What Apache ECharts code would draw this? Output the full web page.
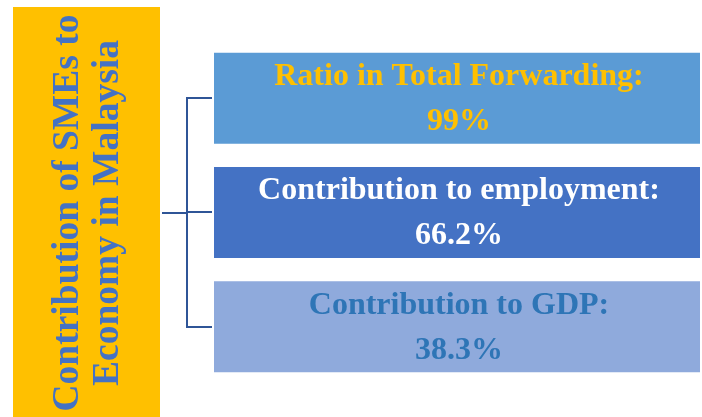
<!DOCTYPE html>
<html>
<head>
<meta charset="utf-8">
<script src="https://cdn.jsdelivr.net/npm/echarts@6/dist/echarts.min.js"></script>
<style>html,body{margin:0;padding:0;background:#fff;}#c{width:702px;height:417px;}</style>
</head>
<body>
<div id="c"></div>
<script>
var titleLines = ["Contribution of SMEs to", "Economy in Malaysia"];
var categories = ["Ratio in Total Forwarding:", "Contribution to employment:", "Contribution to GDP:"];
var values = [99, 66.2, 38.3];
var boxFull = [100, 100, 100];
var boxColors = ["#5B9BD5", "#4472C4", "#8FAADC"];
var textColors = ["#FFC000", "#FFFFFF", "#2E75B6"];

var chart = echarts.init(document.getElementById('c'), null, {renderer: 'canvas'});
var font = "'Liberation Serif', 'Times New Roman', serif";
var lineColor = "#2F5597";

var data = boxFull.map(function (v, i) {
  return {
    value: v,
    itemStyle: {color: boxColors[i]},
    label: {color: textColors[i]}
  };
});

chart.setOption({
  animation: false,
  grid: {left: 214, right: 2, top: 41, bottom: 33},
  xAxis: {type: 'value', min: 0, max: 100, show: false},
  yAxis: {type: 'category', data: categories, inverse: true, show: false},
  series: [{
    type: 'bar',
    data: data,
    barWidth: 91,
    label: {
      show: true,
      position: 'inside',
      offset: [2, 1],
      fontFamily: font,
      fontWeight: 'bold',
      fontSize: 32,
      lineHeight: 45,
      align: 'center',
      formatter: function (p) {
        return categories[p.dataIndex] + '\n' + values[p.dataIndex] + '%';
      }
    }
  }],
  graphic: [
    {type: 'rect', shape: {x: 13, y: 7, width: 147, height: 420}, style: {fill: '#FFC000'}, z: 1},
    {type: 'text', x: 88, y: 213, rotation: Math.PI / 2, z: 2,
      style: {text: titleLines.join('\n'), font: "bold 37.5px " + font, fill: '#4472C4',
        align: 'center', verticalAlign: 'middle', lineHeight: 40}},
    {type: 'polyline', z: 2, shape: {points: [[162, 213], [187, 213]]}, style: {stroke: lineColor, lineWidth: 2, fill: null}},
    {type: 'polyline', z: 2, shape: {points: [[212, 98], [187, 98], [187, 327], [212, 327]]}, style: {stroke: lineColor, lineWidth: 2, fill: null}},
    {type: 'polyline', z: 2, shape: {points: [[187, 212], [212, 212]]}, style: {stroke: lineColor, lineWidth: 2, fill: null}}
  ]
});
</script>
</body>
</html>
